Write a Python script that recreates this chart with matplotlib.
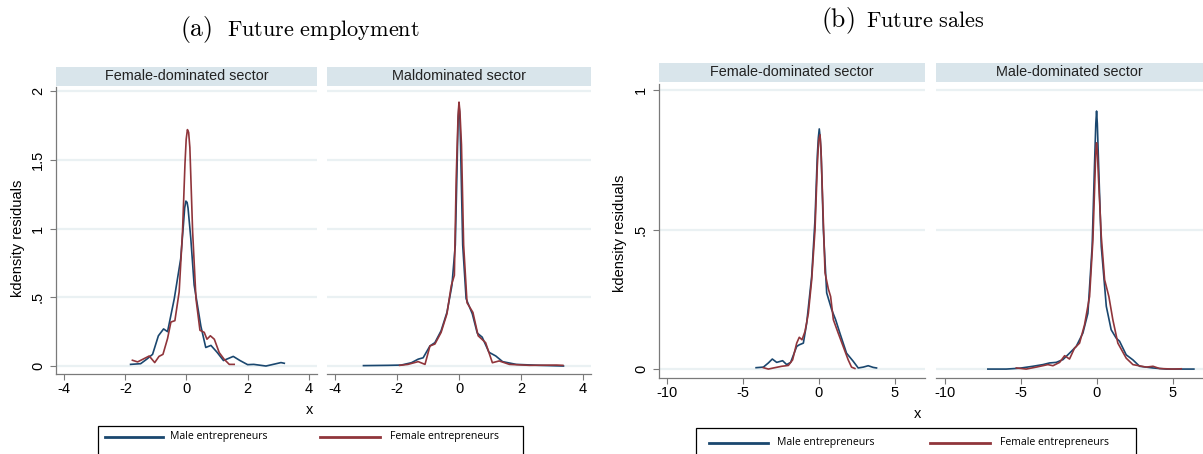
import matplotlib
matplotlib.use("Agg")
import matplotlib.pyplot as plt
from matplotlib.patches import Rectangle
from matplotlib.lines import Line2D

# kdensity of residuals
# (a) future employment, female-dominated sector
emp_fd_male_x = [-1.83, -1.5, -1.3, -1.11, -0.92, -0.75, -0.62, -0.4, -0.19, -0.1, -0.06, -0.02, 0.02, 0.05,
                 0.14, 0.25, 0.36, 0.47, 0.63, 0.8, 1.0, 1.21, 1.53, 1.75, 2.0, 2.2, 2.6, 3.09, 3.2]
emp_fd_male_y = [0.012, 0.017, 0.05, 0.085, 0.22, 0.27, 0.25, 0.49, 0.78, 1.03, 1.15, 1.20, 1.19, 1.15,
                 0.93, 0.59, 0.44, 0.29, 0.135, 0.15, 0.10, 0.04, 0.07, 0.04, 0.01, 0.012, 0.0, 0.025, 0.02]
emp_fd_female_x = [-1.77, -1.6, -1.28, -1.22, -1.04, -0.9, -0.77, -0.62, -0.51, -0.38, -0.24, -0.13,
                   -0.05, -0.01, 0.03, 0.07, 0.11, 0.2, 0.31, 0.44, 0.58, 0.67, 0.78, 0.91, 1.07, 1.23,
                   1.4, 1.56]
emp_fd_female_y = [0.042, 0.03, 0.066, 0.073, 0.025, 0.07, 0.085, 0.2, 0.32, 0.33, 0.54, 0.98,
                   1.47, 1.65, 1.72, 1.70, 1.59, 0.98, 0.49, 0.26, 0.245, 0.195, 0.22, 0.195, 0.098, 0.05,
                   0.012, 0.012]

# (a) future employment, male-dominated sector
emp_md_male_x = [-3.09, -2.3, -1.87, -1.54, -1.32, -1.16, -0.94, -0.78, -0.58, -0.39, -0.23, -0.12, -0.07,
                 -0.03, 0.0, 0.03, 0.05, 0.12, 0.23, 0.43, 0.59, 0.75, 0.97, 1.19, 1.41, 1.85, 2.6, 3.38]
emp_md_male_y = [0.003, 0.005, 0.007, 0.024, 0.05, 0.06, 0.146, 0.17, 0.256, 0.39, 0.585, 0.88, 1.37,
                 1.78, 1.90, 1.80, 1.61, 0.88, 0.49, 0.38, 0.24, 0.21, 0.1, 0.073, 0.032, 0.012, 0.005, 0.0]
emp_md_female_x = [-1.92, -1.65, -1.32, -1.1, -0.94, -0.78, -0.58, -0.39, -0.25, -0.15, -0.09, -0.03, 0.0,
                   0.03, 0.08, 0.15, 0.26, 0.45, 0.62, 0.86, 1.08, 1.3, 1.63, 2.28, 3.16, 3.36]
emp_md_female_y = [0.005, 0.012, 0.032, 0.012, 0.146, 0.16, 0.244, 0.38, 0.585, 0.66, 1.37, 1.82, 1.92,
                   1.85, 1.61, 0.88, 0.46, 0.39, 0.22, 0.17, 0.024, 0.037, 0.012, 0.005, 0.007, 0.005]

# (b) future sales, female-dominated sector
sal_fd_male_x = [-4.15, -3.67, -3.34, -3.08, -2.79, -2.4, -2.13, -1.87, -1.47, -1.3, -1.03, -0.81, -0.48,
                 -0.26, -0.11, -0.04, 0.02, 0.08, 0.15, 0.29, 0.51, 0.84, 1.1, 1.38, 1.82, 2.26, 2.59, 2.92,
                 3.25, 3.58, 3.8]
sal_fd_male_y = [0.005, 0.007, 0.022, 0.036, 0.024, 0.03, 0.016, 0.024, 0.081, 0.087, 0.093, 0.165, 0.333,
                 0.537, 0.764, 0.83, 0.861, 0.83, 0.764, 0.5, 0.273, 0.213, 0.177, 0.129, 0.057, 0.028,
                 0.004, 0.007, 0.012, 0.006, 0.004]
sal_fd_female_x = [-3.67, -3.34, -3.0, -2.46, -2.02, -1.74, -1.47, -1.3, -1.12, -0.92, -0.7, -0.48, -0.26,
                   -0.11, -0.02, 0.07, 0.13, 0.2, 0.4, 0.62, 0.77, 0.95, 1.27, 1.6, 1.93, 2.15, 2.37]
sal_fd_female_y = [0.005, 0.0, 0.004, 0.01, 0.013, 0.033, 0.093, 0.114, 0.105, 0.135, 0.2, 0.32, 0.5,
                   0.727, 0.82, 0.84, 0.79, 0.68, 0.345, 0.287, 0.26, 0.177, 0.129, 0.081, 0.033, 0.007,
                   0.002]

# (b) future sales, male-dominated sector
sal_md_male_x = [-7.15, -5.94, -5.07, -4.19, -3.53, -3.09, -2.65, -2.21, -1.78, -1.34, -0.9, -0.57, -0.29,
                 -0.13, -0.05, 0.0, 0.05, 0.13, 0.31, 0.64, 0.96, 1.29, 1.51, 1.95, 2.39, 2.83, 3.71, 4.58,
                 5.46, 6.4]
sal_md_male_y = [0.0, 0.0, 0.003, 0.01, 0.016, 0.022, 0.024, 0.034, 0.057, 0.081, 0.129, 0.2, 0.44,
                 0.74, 0.88, 0.925, 0.88, 0.74, 0.44, 0.225, 0.141, 0.111, 0.1, 0.051, 0.033, 0.01, 0.004,
                 0.0, 0.0, 0.0]
sal_md_female_x = [-5.28, -4.63, -3.97, -3.2, -2.87, -2.43, -2.1, -1.78, -1.45, -1.12, -0.79, -0.46, -0.24,
                   -0.11, -0.05, 0.0, 0.05, 0.13, 0.31, 0.53, 0.81, 1.07, 1.4, 1.95, 2.39, 3.27, 3.71, 4.14,
                   5.02, 5.57]
sal_md_female_y = [0.004, 0.0, 0.007, 0.016, 0.012, 0.024, 0.048, 0.036, 0.075, 0.093, 0.159, 0.26, 0.464,
                   0.68, 0.78, 0.811, 0.78, 0.68, 0.476, 0.32, 0.26, 0.177, 0.093, 0.039, 0.016, 0.007,
                   0.01, 0.002, 0.0, 0.001]

emp_yticks = [0, 0.5, 1, 1.5, 2]
emp_yticklabels = ["0", ".5", "1", "1.5", "2"]
emp_xticks = [-4, -2, 0, 2, 4]
sal_yticks = [0, 0.5, 1]
sal_yticklabels = ["0", ".5", "1"]
sal_xticks = [-10, -5, 0, 5]

NAVY = "#1a476f"
MAROON = "#90353b"
STRIP = "#d9e5eb"
GRID = "#eaf1f3"
AXC = "#7a7a7a"

plt.rcParams["font.family"] = ["Liberation Sans", "DejaVu Sans"]
plt.rcParams["mathtext.fontset"] = "cm"

W, H = 1203, 454
fig = plt.figure(figsize=(W / 100, H / 100), dpi=100)


def fx(x):
    return x / W


def fy(y):
    return 1 - y / H


def panel(x0, x1, ytop, ybot, strip_top, strip_bot, title, xlim, ylim, xticks, yticks, ylabels,
          male, female, first):
    ax = fig.add_axes([fx(x0), fy(ybot), (x1 - x0) / W, (ybot - ytop) / H])
    fig.patches.append(Rectangle((fx(x0), fy(strip_bot)), (x1 - x0) / W, (strip_bot - strip_top) / H,
                                 transform=fig.transFigure, facecolor=STRIP, edgecolor="none"))
    fig.text(fx((x0 + x1) / 2), fy((strip_top + strip_bot) / 2), title, ha="center", va="center",
             fontsize=10.4, color="#222222")
    for yv in yticks:
        ax.axhline(yv, color=GRID, lw=1.6, zorder=0)
    ax.plot(male[0], male[1], color=NAVY, lw=1.2, zorder=3, solid_joinstyle="round")
    ax.plot(female[0], female[1], color=MAROON, lw=1.2, zorder=3, solid_joinstyle="round")
    ax.set_xlim(*xlim)
    ax.set_ylim(*ylim)
    ax.set_xticks(xticks)
    ax.set_xticklabels([str(t) for t in xticks])
    ax.set_yticks(yticks)
    for s in ["top", "right"]:
        ax.spines[s].set_visible(False)
    ax.spines["bottom"].set_color(AXC)
    ax.spines["bottom"].set_linewidth(0.9)
    ax.tick_params(axis="x", length=4, width=0.8, color=AXC, labelsize=10.5, pad=2)
    if first:
        ax.spines["left"].set_color(AXC)
        ax.spines["left"].set_linewidth(0.9)
        ax.set_yticklabels(ylabels)
        ax.tick_params(axis="y", length=4, width=0.8, color=AXC, labelsize=10.5, pad=4,
                       labelrotation=90)
        for lab in ax.get_yticklabels():
            lab.set_va("center")
    else:
        ax.spines["left"].set_visible(False)
        ax.tick_params(axis="y", length=0, labelleft=False)
    ax.patch.set_alpha(0)
    return ax


def legend_box(x0, x1, ytop, yrow, l1, t1, l2, t2):
    fig.patches.append(Rectangle((fx(x0), fy(ytop + 40)), (x1 - x0) / W, 40 / H,
                                 transform=fig.transFigure, facecolor="white",
                                 edgecolor="black", lw=0.9))
    fig.lines.append(Line2D([fx(l1[0]), fx(l1[1])], [fy(yrow), fy(yrow)], transform=fig.transFigure,
                            color=NAVY, lw=2.0))
    fig.lines.append(Line2D([fx(l2[0]), fx(l2[1])], [fy(yrow), fy(yrow)], transform=fig.transFigure,
                            color=MAROON, lw=2.0))
    fig.text(fx(t1), fy(yrow), "Male entrepreneurs", ha="left", va="center", fontsize=7.6,
             family="Open Sans")
    fig.text(fx(t2), fy(yrow), "Female entrepreneurs", ha="left", va="center", fontsize=7.6,
             family="Open Sans")


# ---- (a) Future employment ----
emp_xlim = (-4.27, 4.27)
emp_ylim = (-0.058, 2.03)
panel(56, 317, 87, 374, 67, 86, "Female-dominated sector", emp_xlim, emp_ylim, emp_xticks,
      emp_yticks, emp_yticklabels, (emp_fd_male_x, emp_fd_male_y), (emp_fd_female_x, emp_fd_female_y), True)
panel(327, 591, 87, 374, 67, 86, "Maldominated sector", emp_xlim, emp_ylim, emp_xticks,
      emp_yticks, emp_yticklabels, (emp_md_male_x, emp_md_male_y), (emp_md_female_x, emp_md_female_y), False)
fig.text(fx(18), fy(238), "kdensity residuals", rotation=90, ha="center", va="center", fontsize=10.5)
fig.text(fx(310), fy(410), "x", ha="center", va="center", fontsize=10.5)
fig.text(fx(180), fy(36), r"$\mathrm{(a)}$", ha="left", va="baseline", fontsize=18.5)
fig.text(fx(227), fy(36), r"$\mathrm{Future\ employment}$", ha="left", va="baseline", fontsize=16)
legend_box(98, 523, 426, 437, (105, 163), 170, (320, 380), 390)

# ---- (b) Future sales ----
sal_xlim = (-10.56, 7.0)
sal_ylim = (-0.032, 1.022)
panel(659, 925, 84, 378, 63, 82, "Female-dominated sector", sal_xlim, sal_ylim, sal_xticks,
      sal_yticks, sal_yticklabels, (sal_fd_male_x, sal_fd_male_y), (sal_fd_female_x, sal_fd_female_y), True)
panel(936, 1203, 84, 378, 63, 82, "Male-dominated sector", sal_xlim, sal_ylim, sal_xticks,
      sal_yticks, sal_yticklabels, (sal_md_male_x, sal_md_male_y), (sal_md_female_x, sal_md_female_y), False)
fig.text(fx(620), fy(233), "kdensity residuals", rotation=90, ha="center", va="center", fontsize=10.5)
fig.text(fx(918), fy(414), "x", ha="center", va="center", fontsize=10.5)
fig.text(fx(821), fy(27), r"$\mathrm{(b)}$", ha="left", va="baseline", fontsize=18.5)
fig.text(fx(866), fy(27), r"$\mathrm{Future\ sales}$", ha="left", va="baseline", fontsize=16)
legend_box(696, 1136, 428, 443, (709, 768), 777, (930, 990), 1000)

fig.savefig("out.png", dpi=100)
